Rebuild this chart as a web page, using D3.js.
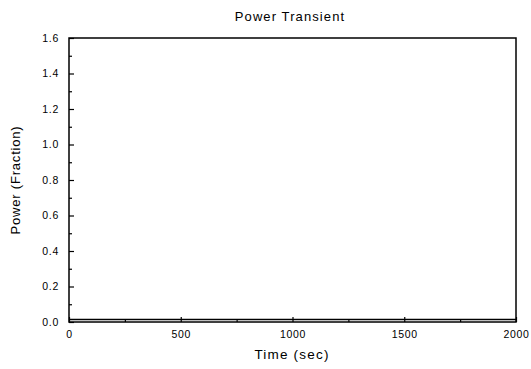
<!DOCTYPE html>
<html><head><meta charset="utf-8">
<script src="https://cdn.jsdelivr.net/npm/d3@7"></script>
<style>body{margin:0;background:#fff}svg{display:block;font-family:"Liberation Sans",Arial,sans-serif}</style>
</head><body><svg id="c" width="531" height="369"></svg>
<script>
const timeSec = [0, 250, 500, 750, 1000, 1250, 1500, 1750, 2000];
const powerFraction = [0.014, 0.014, 0.014, 0.014, 0.014, 0.014, 0.014, 0.014, 0.014];
const xTicks = [0, 500, 1000, 1500, 2000];
const xMinor = [250, 750, 1250, 1750];
const yTicks = [0.0, 0.2, 0.4, 0.6, 0.8, 1.0, 1.2, 1.4, 1.6];
const yMinor = [0.1, 0.3, 0.5, 0.7, 0.9, 1.1, 1.3, 1.5];

const svg = d3.select("#c");
const L = 69, R = 516, T = 38, B = 322;
const x = d3.scaleLinear().domain([0, 2000]).range([L, R]);
const y = d3.scaleLinear().domain([0, 1.6]).range([B, T]);

svg.append("rect").attr("x", L).attr("y", T).attr("width", R - L).attr("height", B - T)
  .attr("fill", "none").attr("stroke", "#000").attr("stroke-width", 1.5);

svg.append("g").attr("transform", `translate(0,${B})`)
  .call(d3.axisBottom(x).tickValues(xTicks).tickSize(-5).tickPadding(9).tickFormat(d3.format("d")));
svg.append("g").attr("transform", `translate(0,${B})`)
  .call(d3.axisBottom(x).tickValues(xMinor).tickSize(-3).tickFormat(""));
svg.append("g").attr("transform", `translate(${L},0)`)
  .call(d3.axisLeft(y).tickValues(yTicks).tickSize(-5).tickPadding(10).tickFormat(d3.format(".1f")));
svg.append("g").attr("transform", `translate(${L},0)`)
  .call(d3.axisLeft(y).tickValues(yMinor).tickSize(-3).tickFormat(""));
svg.selectAll(".domain").remove();
svg.selectAll(".tick line").attr("stroke", "#000").attr("stroke-width", 1.2);
svg.selectAll(".tick text").attr("font-size", 10.5).attr("fill", "#000").attr("letter-spacing", 0.7)
  .attr("font-family", "Liberation Sans, Arial, sans-serif");

svg.append("path").datum(timeSec.map((t, i) => [t, powerFraction[i]]))
  .attr("fill", "none").attr("stroke", "#000").attr("stroke-width", 1.3)
  .attr("d", d3.line().x(d => x(d[0])).y(d => y(d[1])));

svg.append("text").attr("x", 290).attr("y", 21).attr("text-anchor", "middle")
  .attr("font-size", 13).attr("letter-spacing", 1.1).text("Power Transient");
svg.append("text").attr("x", 292).attr("y", 359).attr("text-anchor", "middle")
  .attr("font-size", 13.5).attr("letter-spacing", 1.2).text("Time (sec)");
svg.append("text").attr("transform", "translate(20,180) rotate(-90)").attr("text-anchor", "middle")
  .attr("font-size", 13).attr("letter-spacing", 0.8).text("Power (Fraction)");
</script></body></html>
